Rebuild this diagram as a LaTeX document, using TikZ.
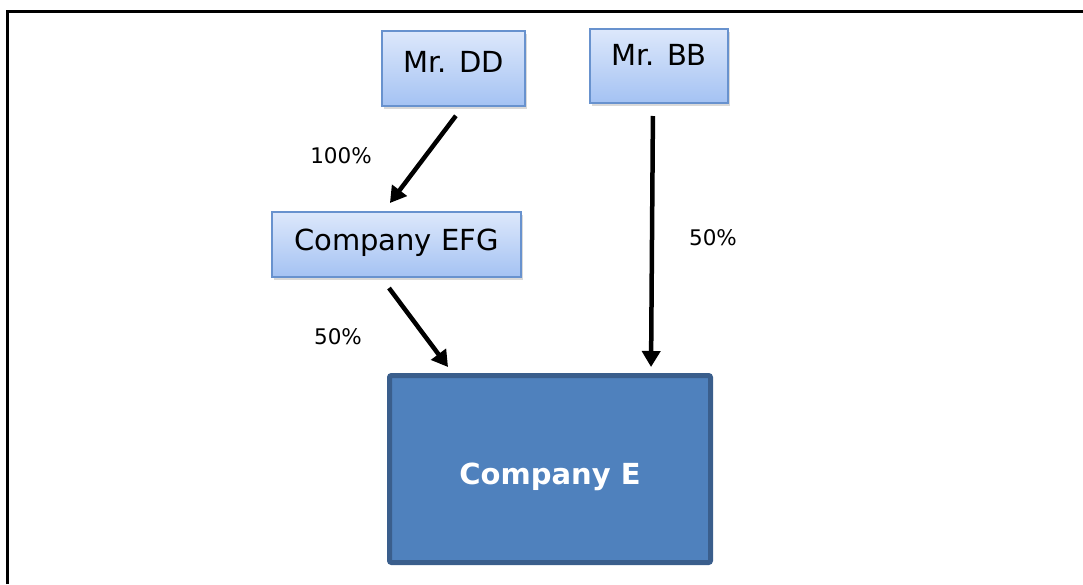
\documentclass[tikz,border=0pt]{standalone}
\usepackage{fontspec}
\setmainfont{DejaVu Sans}
\usetikzlibrary{arrows.meta,shadows}
\definecolor{bleuclair}{RGB}{221,232,251}
\definecolor{bleumoyen}{RGB}{164,194,243}
\definecolor{bleubord}{RGB}{104,146,206}
\definecolor{bleufonce}{RGB}{79,129,189}
\definecolor{bleunuit}{RGB}{58,94,140}

\begin{document}
\begin{tikzpicture}[x=1pt,y=-1pt,
	boite/.style={rectangle,
		draw=bleubord,
		line width=2pt,
		top color=bleuclair,
		bottom color=bleumoyen,
		drop shadow={shadow xshift=1.5pt,shadow yshift=-2.5pt,opacity=0.3},
		inner sep=0pt,
		text height=21pt,
		font=\fontsize{29}{34}\selectfont},
	fleche/.style={-{Triangle[length=16pt,width=18pt]}, line width=4.5pt},
	pct/.style={font=\fontsize{21.5}{26}\selectfont}]

	\useasboundingbox (0,0) rectangle (1083,584);
	\draw[line width=3pt] (7,584) |- (1083,11);  % cadre

	% actionnaires
	\node[boite, minimum width=143pt, minimum height=75pt, text depth=14pt] (dd) at (453.5,68.5) {Mr. DD};
	\node[boite, minimum width=138pt, minimum height=74pt, text depth=22pt] (bb) at (659,66) {Mr. BB};
	\node[boite, minimum width=249pt, minimum height=65pt, text depth=9pt] (efg) at (396.5,244.5) {Company EFG};

	% societe cible
	\node[rectangle,
		rounded corners=2pt,
		draw=bleunuit,
		line width=5pt,
		fill=bleufonce,
		minimum width=321pt,
		minimum height=187pt,
		text height=31pt,
		text depth=0pt,
		text=white,
		font=\fontsize{29}{34}\selectfont\bfseries] (ce) at (550,469) {Company E};

	\draw[fleche, shorten <=11pt, shorten >=10pt] ([xshift=9pt]dd.south) -- ([xshift=-12.6pt]efg.north);
	\draw[fleche, shorten <=12.5pt, shorten >=7.5pt] ([xshift=-15pt]efg.south) -- ([xshift=-97.5pt]ce.north);
	\draw[fleche, shorten <=12pt, shorten >=6pt] ([xshift=-6pt]bb.south) -- ([xshift=101pt]ce.north);

	\node[pct] (p1) at (341,156) {100\%};
	\node[pct] (p2) at (338,337) {50\%};
	\node[pct] (p3) at (713,238) {50\%};
\end{tikzpicture}
\end{document}
